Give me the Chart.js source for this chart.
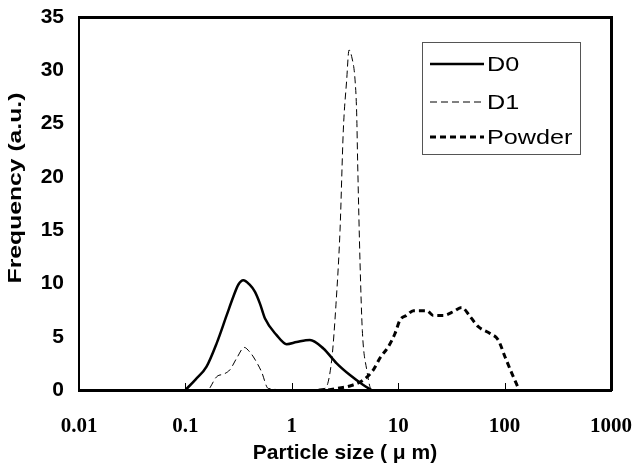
<!DOCTYPE html>
<html>
<head>
<meta charset="utf-8">
<script src="https://cdn.jsdelivr.net/npm/chart.js@4"></script>
<style>
  body { margin: 0; background: #fff; }
</style>
</head>
<body>
<canvas id="psd" width="635" height="471"></canvas>
<script>
// particle size distribution
const d0Size = [0.1, 0.125, 0.158, 0.197, 0.244, 0.282, 0.315, 0.35, 0.40, 0.451, 0.502, 0.56, 0.72, 0.894, 1.11, 1.48, 1.98, 2.64, 3.52, 4.7, 5.6];
const d0Freq = [0, 1.0, 2.2, 4.4, 7.0, 8.75, 9.9, 10.3, 9.9, 9.2, 8.1, 6.7, 5.15, 4.3, 4.5, 4.7, 3.9, 2.5, 1.4, 0.47, 0];

const d1Size = [0.17, 0.197, 0.23, 0.262, 0.308, 0.357, 0.40, 0.436, 0.52, 0.60, 1.0, 2.05, 2.37, 2.6, 2.84, 3.05, 3.28, 3.45, 3.65, 3.93, 4.07, 4.16, 4.38, 4.6, 5.06, 5.64, 6.5];
const d1Freq = [0.2, 1.25, 1.5, 1.9, 3.1, 4.0, 3.6, 3.1, 1.7, 0.15, 0, 0.15, 2.8, 8, 15, 24.4, 29.1, 31.9, 31.3, 29.1, 26, 21.3, 11.9, 5.6, 1.9, 0, 0];

const powderSize = [2.2, 2.64, 3.52, 4.7, 5.84, 6.74, 8.07, 9.33, 10.4, 12.0, 13.9, 18.5, 21.4, 26.5, 33, 39.5, 47.3, 56.6, 73, 87, 101, 117, 135];
const powderFreq = [0, 0.15, 0.38, 0.94, 1.9, 3.0, 4.06, 5.3, 6.57, 7.0, 7.44, 7.44, 7.0, 7.0, 7.35, 7.75, 6.9, 5.94, 5.3, 4.7, 3.1, 1.56, 0.15];

const xTicks = [0.01, 0.1, 1, 10, 100, 1000];
const xTickLabels = ['0.01', '0.1', '1', '10', '100', '1000'];
const seriesNames = ['D0', 'D1', 'Powder'];
const yTitle = 'Frequency (a.u.)';

function pts(xs, ys) {
    return xs.map((x, i) => ({ x: x, y: ys[i] }));
}

// small inward ticks on the x axis, rotated y title
const frame = {
    id: 'plotFrame',
    afterDraw(chart) {
        const ctx = chart.ctx;
        const a = chart.chartArea;
        const sx = chart.scales.x;
        ctx.save();
        ctx.fillStyle = '#000';
        xTicks.forEach(v => {
            const px = Math.round(sx.getPixelForValue(v));
            ctx.fillRect(px, Math.round(a.bottom) - 7, 1, 7);
        });

        // y title, stretched along its length like the original
        ctx.font = 'bold 19px "Liberation Sans", Arial, sans-serif';
        ctx.textAlign = 'center';
        ctx.textBaseline = 'middle';
        ctx.translate(16, 188);
        ctx.rotate(-Math.PI / 2);
        ctx.scale(1.3, 1);
        ctx.fillText(yTitle, 0, 0);
        ctx.restore();
    }
};

// legend drawn inside the plot
const boxLegend = {
    id: 'boxLegend',
    afterDraw(chart) {
        const ctx = chart.ctx;
        const bx = 422, by = 42, bw = 158, bh = 112;
        ctx.save();
        ctx.fillStyle = '#fff';
        ctx.fillRect(bx, by, bw, bh);
        ctx.strokeStyle = '#555';
        ctx.lineWidth = 1;
        ctx.strokeRect(bx + 0.5, by + 0.5, bw, bh);
        const rows = [64, 102, 137];
        chart.data.datasets.forEach((ds, i) => {
            const y = rows[i];
            ctx.strokeStyle = ds.borderColor;
            ctx.lineWidth = ds.borderWidth;
            ctx.setLineDash(ds.borderDash || []);
            ctx.beginPath();
            ctx.moveTo(430, y);
            ctx.lineTo(484, y);
            ctx.stroke();
            ctx.setLineDash([]);
            ctx.fillStyle = '#000';
            ctx.font = '21px "Liberation Sans", Arial, sans-serif';
            ctx.textBaseline = 'middle';
            ctx.save();
            ctx.translate(487, y);
            ctx.scale(1.2, 1);
            ctx.fillText(ds.label, 0, 1);
            ctx.restore();
        });
        ctx.restore();
    }
};

// empty axes used only for the top and right sides of the box
const edge = (pos) => ({
    position: pos,
    display: true,
    afterFit: s => {
        if (pos === 'top') { s.height = 0; } else { s.width = 0; }
        s.paddingLeft = 0; s.paddingRight = 0; s.paddingTop = 0; s.paddingBottom = 0;
    },
    grid: { display: true, drawOnChartArea: false, drawTicks: false },
    border: { display: true, color: '#000', width: 3 },
    ticks: { display: false }
});

new Chart(document.getElementById('psd').getContext('2d'), {
    type: 'line',
    data: {
        datasets: [{
            label: seriesNames[0],
            data: pts(d0Size, d0Freq),
            borderColor: '#000',
            borderWidth: 2.5,
            cubicInterpolationMode: 'monotone'
        }, {
            label: seriesNames[1],
            data: pts(d1Size, d1Freq),
            borderColor: '#000',
            borderWidth: 1,
            borderDash: [7, 4],
            cubicInterpolationMode: 'monotone'
        }, {
            label: seriesNames[2],
            data: pts(powderSize, powderFreq),
            borderColor: '#000',
            borderWidth: 3,
            borderDash: [6, 4],
            cubicInterpolationMode: 'monotone'
        }]
    },
    options: {
        responsive: false,
        animation: false,
        parsing: false,
        elements: { point: { radius: 0 } },
        layout: { padding: { top: 17, right: 24, left: 0, bottom: 0 } },
        plugins: {
            legend: { display: false },
            tooltip: { enabled: false }
        },
        scales: {
            x: {
                type: 'logarithmic',
                min: 0.01,
                max: 1000,
                afterBuildTicks: s => { s.ticks = xTicks.map(v => ({ value: v })); },
                afterFit: s => { s.height = 81; s.paddingLeft = 0; s.paddingRight = 0; },
                grid: { display: true, drawOnChartArea: false, drawTicks: false },
                border: { display: true, color: '#000', width: 3 },
                ticks: {
                    color: '#000',
                    padding: 24,
                    maxRotation: 0,
                    autoSkip: false,
                    font: { family: '"Liberation Serif", "Times New Roman", serif', size: 21, weight: 'bold' },
                    callback: (v) => {
                        const i = xTicks.indexOf(v);
                        return i >= 0 ? xTickLabels[i] : '';
                    }
                },
                title: {
                    display: true,
                    text: 'Particle size ( μ m)',
                    color: '#000',
                    padding: { top: 0, bottom: 5 },
                    font: { family: '"Liberation Sans", Arial, sans-serif', size: 21, weight: 'bold' }
                }
            },
            xTop: Object.assign({ type: 'linear', min: 0, max: 1, axis: 'x' }, edge('top')),
            y: {
                min: 0,
                max: 35,
                afterFit: s => { s.width = 79; s.paddingTop = 0; s.paddingBottom = 0; },
                grid: { display: true, drawOnChartArea: false, drawTicks: false },
                border: { display: true, color: '#000', width: 2 },
                ticks: {
                    stepSize: 5,
                    color: '#000',
                    padding: 15,
                    font: { family: '"Liberation Sans", Arial, sans-serif', size: 21, weight: 'bold' }
                }
            },
            yRight: Object.assign({ type: 'linear', min: 0, max: 1, axis: 'y' }, edge('right'))
        }
    },
    plugins: [frame, boxLegend]
});
</script>
</body>
</html>
